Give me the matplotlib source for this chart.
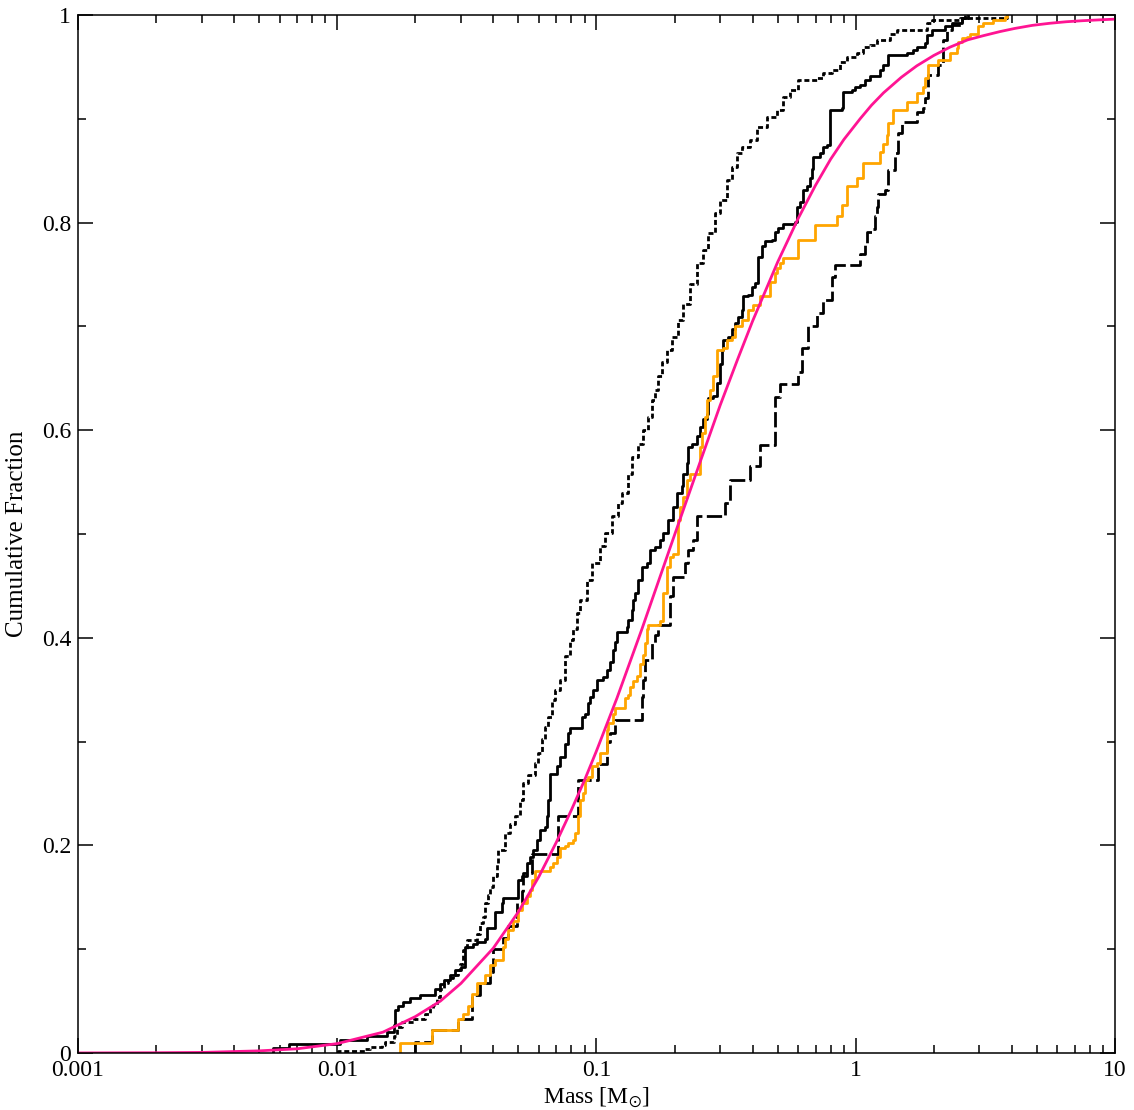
import matplotlib
matplotlib.use("Agg")
import matplotlib.pyplot as plt
from matplotlib.ticker import FixedLocator, FixedFormatter, MultipleLocator, LogLocator, NullFormatter

plt.rcParams["font.family"] = ["Liberation Serif", "DejaVu Serif"]
plt.rcParams["mathtext.fontset"] = "stix"
plt.rcParams["lines.scale_dashes"] = False

# Cumulative curves: mass where each step happens and fraction reached there
dotted_mass = [0.0101, 0.0128, 0.0134, 0.0149, 0.0153, 0.0165, 0.0170, 0.0177, 0.0197, 0.0218,
               0.0228, 0.0235, 0.0242, 0.0249, 0.0257, 0.0268, 0.0280, 0.0293, 0.0298, 0.0306,
               0.0316, 0.0345, 0.0355, 0.0366, 0.0372, 0.0383, 0.0388, 0.0400, 0.0412, 0.0418,
               0.0444, 0.0464, 0.0485, 0.0507, 0.0522, 0.0546, 0.0579, 0.0596, 0.0615, 0.0633,
               0.0652, 0.0672, 0.0692, 0.0723, 0.0756, 0.0790, 0.0814, 0.0839, 0.0864, 0.0917,
               0.0958, 0.1031, 0.1078, 0.1144, 0.1214, 0.1251, 0.1327, 0.1367, 0.1450, 0.1515,
               0.1584, 0.1633, 0.1682, 0.1732, 0.1785, 0.1866, 0.1951, 0.2068, 0.2161, 0.2295,
               0.2435, 0.2582, 0.2700, 0.2866, 0.2995, 0.3178, 0.3323, 0.3474, 0.3632, 0.3910,
               0.4149, 0.4535, 0.4957, 0.5255, 0.5577, 0.6003, 0.7070, 0.7498, 0.8078, 0.8694,
               0.9227, 1.008, 1.069, 1.135, 1.204, 1.356, 1.439, 1.878, 1.963, 2.525, 3.821]
dotted_frac = [0.002, 0.004, 0.006, 0.008, 0.011, 0.016, 0.025, 0.030, 0.033, 0.038,
               0.043, 0.046, 0.054, 0.062, 0.067, 0.072, 0.075, 0.080, 0.086, 0.099,
               0.109, 0.115, 0.125, 0.131, 0.144, 0.152, 0.160, 0.170, 0.183, 0.196,
               0.212, 0.221, 0.228, 0.244, 0.260, 0.268, 0.279, 0.289, 0.302, 0.314,
               0.324, 0.340, 0.350, 0.359, 0.382, 0.398, 0.408, 0.424, 0.436, 0.456,
               0.472, 0.488, 0.501, 0.517, 0.530, 0.539, 0.558, 0.574, 0.587, 0.600,
               0.613, 0.629, 0.639, 0.652, 0.666, 0.677, 0.690, 0.706, 0.722, 0.741,
               0.761, 0.774, 0.790, 0.809, 0.822, 0.841, 0.854, 0.867, 0.873, 0.880,
               0.892, 0.902, 0.908, 0.921, 0.928, 0.937, 0.939, 0.944, 0.947, 0.955,
               0.960, 0.963, 0.969, 0.971, 0.976, 0.982, 0.986, 0.992, 0.995, 0.997, 1.0]

solid_mass = [0.00564, 0.00653, 0.01025, 0.0130, 0.0155, 0.0165, 0.0167, 0.0172, 0.0180, 0.0191,
              0.0209, 0.0238, 0.0249, 0.0257, 0.0272, 0.0285, 0.0300, 0.0311, 0.0335, 0.0345,
              0.0372, 0.0377, 0.0406, 0.0431, 0.0437, 0.0499, 0.0514, 0.0538, 0.0554, 0.0571,
              0.0588, 0.0606, 0.0633, 0.0643, 0.0652, 0.0662, 0.0702, 0.0723, 0.0756, 0.0779,
              0.0790, 0.0877, 0.0903, 0.0930, 0.0944, 0.0972, 0.1001, 0.1062, 0.1095, 0.1127,
              0.1161, 0.1179, 0.1196, 0.1307, 0.1327, 0.1367, 0.1387, 0.1408, 0.1450, 0.1494,
              0.1562, 0.1609, 0.1682, 0.1758, 0.1810, 0.1892, 0.1978, 0.2039, 0.2132, 0.2161,
              0.2228, 0.2260, 0.2329, 0.2435, 0.2507, 0.2582, 0.2661, 0.2700, 0.2823, 0.2909,
              0.2995, 0.3041, 0.3084, 0.3224, 0.3323, 0.3422, 0.3524, 0.3632, 0.3684, 0.3852,
              0.3970, 0.4088, 0.4209, 0.4338, 0.4467, 0.4740, 0.4881, 0.5026, 0.5255, 0.5832,
              0.5920, 0.6095, 0.6278, 0.6470, 0.6664, 0.6764, 0.6861, 0.7281, 0.7498, 0.7727,
              0.7955, 0.8829, 0.8954, 0.9647, 0.9934, 1.038, 1.086, 1.135, 1.240, 1.277,
              1.335, 1.573, 1.667, 1.718, 1.850, 1.878, 1.963, 2.210, 2.344, 2.563, 2.718]
solid_frac = [0.0045, 0.009, 0.0125, 0.016, 0.020, 0.027, 0.041, 0.045, 0.049, 0.053,
              0.056, 0.062, 0.066, 0.070, 0.075, 0.080, 0.083, 0.102, 0.105, 0.107,
              0.110, 0.120, 0.136, 0.144, 0.149, 0.167, 0.170, 0.183, 0.189, 0.196,
              0.205, 0.215, 0.218, 0.228, 0.244, 0.269, 0.276, 0.285, 0.298, 0.308,
              0.313, 0.324, 0.327, 0.337, 0.343, 0.350, 0.359, 0.362, 0.369, 0.377,
              0.388, 0.396, 0.406, 0.410, 0.417, 0.427, 0.436, 0.443, 0.456, 0.468,
              0.472, 0.485, 0.487, 0.494, 0.501, 0.513, 0.526, 0.539, 0.546, 0.558,
              0.568, 0.584, 0.587, 0.594, 0.603, 0.611, 0.616, 0.631, 0.633, 0.645,
              0.664, 0.677, 0.687, 0.690, 0.697, 0.703, 0.709, 0.716, 0.729, 0.730,
              0.738, 0.742, 0.767, 0.777, 0.782, 0.783, 0.791, 0.795, 0.799, 0.801,
              0.815, 0.820, 0.831, 0.835, 0.843, 0.852, 0.863, 0.867, 0.873, 0.875,
              0.908, 0.910, 0.926, 0.928, 0.931, 0.933, 0.937, 0.941, 0.947, 0.952,
              0.961, 0.963, 0.966, 0.969, 0.973, 0.981, 0.986, 0.989, 0.992, 0.997, 1.0]

dashed_mass = [0.0200, 0.0233, 0.0293, 0.0330, 0.0355, 0.0388, 0.0400, 0.0437, 0.0457, 0.0492,
               0.0514, 0.0522, 0.0562, 0.0713, 0.0851, 0.1016, 0.1095, 0.1127, 0.1179, 0.1494,
               0.1515, 0.1538, 0.1633, 0.1682, 0.1732, 0.1921, 0.1978, 0.2194, 0.2260, 0.2363,
               0.2435, 0.3131, 0.3273, 0.3910, 0.4273, 0.4881, 0.5103, 0.6003, 0.6185, 0.6565,
               0.7070, 0.7498, 0.8078, 0.8318, 1.038, 1.086, 1.102, 1.152, 1.186, 1.204,
               1.222, 1.297, 1.335, 1.417, 1.460, 1.504, 1.718, 1.822, 1.850, 1.905,
               2.082, 2.176, 2.243, 2.344, 2.563, 2.630]
dashed_frac = [0.011, 0.022, 0.033, 0.056, 0.067, 0.078, 0.100, 0.111, 0.122, 0.144,
               0.156, 0.173, 0.192, 0.228, 0.263, 0.278, 0.300, 0.308, 0.321, 0.343,
               0.359, 0.379, 0.395, 0.403, 0.412, 0.440, 0.459, 0.472, 0.485, 0.494,
               0.517, 0.530, 0.552, 0.565, 0.586, 0.632, 0.644, 0.656, 0.679, 0.700,
               0.713, 0.725, 0.748, 0.759, 0.770, 0.780, 0.791, 0.794, 0.806, 0.815,
               0.828, 0.831, 0.851, 0.867, 0.886, 0.897, 0.907, 0.910, 0.920, 0.942,
               0.952, 0.976, 0.986, 0.990, 0.997, 1.0]

orange_mass = [0.01746, 0.02314, 0.0293, 0.0306, 0.0320, 0.0330, 0.0345, 0.0372, 0.0388, 0.0406,
               0.0437, 0.0444, 0.0457, 0.0478, 0.0500, 0.0514, 0.0538, 0.0554, 0.0562, 0.0579,
               0.0662, 0.0682, 0.0702, 0.0723, 0.0756, 0.0779, 0.0814, 0.0826, 0.0851, 0.0864,
               0.0890, 0.0903, 0.0930, 0.0958, 0.1001, 0.1031, 0.1095, 0.1110, 0.1161, 0.1179,
               0.1288, 0.1327, 0.1347, 0.1387, 0.1429, 0.1472, 0.1515, 0.1538, 0.1562, 0.1584,
               0.1758, 0.1810, 0.1866, 0.1921, 0.1978, 0.2068, 0.2100, 0.2161, 0.2228, 0.2295,
               0.2507, 0.2545, 0.2622, 0.2661, 0.2741, 0.2823, 0.2909, 0.3084, 0.3178, 0.3323,
               0.3422, 0.3632, 0.3852, 0.4025, 0.4273, 0.4671, 0.4881, 0.4957, 0.5103, 0.5255,
               0.6003, 0.6964, 0.8446, 0.8829, 0.9227, 1.008, 1.069, 1.240, 1.277, 1.316,
               1.335, 1.395, 1.573, 1.718, 1.822, 1.850, 1.905, 2.082, 2.309, 2.451,
               2.487, 2.563, 2.679, 2.759, 2.971, 3.105, 3.394, 3.765, 3.821]
orange_frac = [0.010, 0.022, 0.033, 0.038, 0.045, 0.057, 0.067, 0.075, 0.085, 0.090,
               0.102, 0.110, 0.118, 0.127, 0.138, 0.144, 0.151, 0.157, 0.167, 0.175,
               0.179, 0.183, 0.189, 0.197, 0.199, 0.202, 0.205, 0.212, 0.228, 0.244,
               0.250, 0.263, 0.266, 0.276, 0.279, 0.289, 0.311, 0.318, 0.327, 0.332,
               0.342, 0.345, 0.353, 0.358, 0.363, 0.375, 0.383, 0.395, 0.408, 0.412,
               0.416, 0.443, 0.468, 0.478, 0.481, 0.513, 0.526, 0.536, 0.552, 0.558,
               0.584, 0.597, 0.613, 0.629, 0.639, 0.652, 0.677, 0.679, 0.687, 0.690,
               0.700, 0.706, 0.716, 0.721, 0.729, 0.743, 0.751, 0.756, 0.761, 0.766,
               0.783, 0.798, 0.806, 0.817, 0.835, 0.843, 0.857, 0.868, 0.876, 0.884,
               0.896, 0.908, 0.916, 0.925, 0.931, 0.939, 0.952, 0.957, 0.963, 0.968,
               0.974, 0.978, 0.979, 0.982, 0.989, 0.992, 0.995, 0.998, 1.0]

model_mass = [0.001, 0.002, 0.003, 0.005, 0.007, 0.01, 0.015, 0.02, 0.025, 0.03, 0.04, 0.05,
              0.06, 0.07, 0.08, 0.09, 0.1, 0.12, 0.15, 0.2, 0.25, 0.3, 0.35, 0.4, 0.5, 0.6,
              0.7, 0.8, 0.9, 1.04, 1.15, 1.28, 1.5, 1.72, 2.0, 2.31, 2.7, 3.1, 3.6, 4.1, 4.8,
              5.6, 6.5, 7.5, 8.7, 10.0]
model_frac = [0.0, 0.0002, 0.0005, 0.002, 0.004, 0.009, 0.020, 0.035, 0.050, 0.067, 0.101, 0.136,
              0.170, 0.203, 0.234, 0.263, 0.291, 0.342, 0.409, 0.499, 0.568, 0.624, 0.668, 0.705,
              0.762, 0.804, 0.836, 0.861, 0.880, 0.900, 0.913, 0.925, 0.940, 0.951, 0.961,
              0.969, 0.976, 0.980, 0.984, 0.987, 0.990, 0.992, 0.9935, 0.9945, 0.9953, 0.996]

x_ticks = [0.001, 0.01, 0.1, 1, 10]
x_labels = ["0.001", "0.01", "0.1", "1", "10"]
y_ticks = [0, 0.2, 0.4, 0.6, 0.8, 1.0]
y_labels = ["0", "0.2", "0.4", "0.6", "0.8", "1"]

fig = plt.figure(figsize=(11.34, 11.10), dpi=100)
ax = fig.add_axes([0.0688, 0.0514, 0.9144, 0.9351])

lw = 2.0
ax.plot([dotted_mass[0]] + dotted_mass, [0] + dotted_frac, drawstyle="steps-post",
        color="black", lw=lw, dashes=(3.6, 2.0))
ax.plot([solid_mass[0]] + solid_mass, [0] + solid_frac, drawstyle="steps-post",
        color="black", lw=lw)
ax.plot([dashed_mass[0]] + dashed_mass, [0] + dashed_frac, drawstyle="steps-post",
        color="black", lw=lw, dashes=(11.0, 3.2))
ax.plot([orange_mass[0]] + orange_mass, [0] + orange_frac, drawstyle="steps-post",
        color="#ffa500", lw=lw)
ax.plot(model_mass, model_frac, color="#ff1493", lw=lw)

ax.set_xscale("log")
ax.set_xlim(0.001, 10)
ax.set_ylim(0, 1)

ax.xaxis.set_major_locator(FixedLocator(x_ticks))
ax.xaxis.set_major_formatter(FixedFormatter(x_labels))
ax.xaxis.set_minor_locator(LogLocator(base=10, subs=range(2, 10), numticks=20))
ax.xaxis.set_minor_formatter(NullFormatter())
ax.yaxis.set_major_locator(FixedLocator(y_ticks))
ax.yaxis.set_major_formatter(FixedFormatter(y_labels))
ax.yaxis.set_minor_locator(MultipleLocator(0.1))

ax.tick_params(which="both", direction="in", top=True, right=True, width=1.1, labelsize=17)
ax.tick_params(which="major", length=11)
ax.tick_params(which="minor", length=5.8)
ax.tick_params(axis="x", pad=5)
ax.tick_params(axis="y", pad=5)
for s in ax.spines.values():
    s.set_linewidth(1.1)

ax.set_xlabel(r"Mass [M$_{\odot}$]", fontsize=17)
ax.set_ylabel("Cumulative Fraction", fontsize=18)
ax.xaxis.set_label_coords(0.5, -0.032)
ax.yaxis.set_label_coords(-0.048, 0.5)

fig.savefig("out.png", dpi=100)
